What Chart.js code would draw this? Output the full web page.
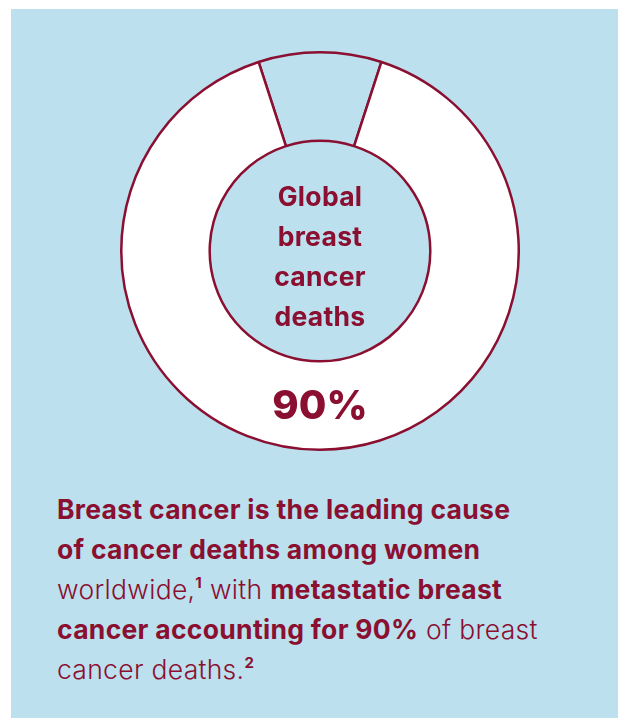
<!DOCTYPE html>
<html>
<head>
<meta charset="utf-8">
<script src="https://cdn.jsdelivr.net/npm/chart.js@4"></script>
<style>
  html, body { margin: 0; padding: 0; background: #fff; }
  body { width: 618px; height: 718px; position: relative; overflow: hidden; font-family: Inter, "Noto Sans", sans-serif; color: #8a0f30; }
  .panel { position: absolute; left: 11px; top: 9px; width: 607px; height: 709px; background: #bce0ee; }
  #donut { position: absolute; left: 120px; top: 51px; }
  .center-label { position: absolute; left: 220px; width: 200px; top: 176px; text-align: center; font-weight: 700; font-size: 26.5px; line-height: 40px; letter-spacing: 0.3px; }
  .big-value { position: absolute; left: 220px; width: 200px; top: 380px; text-align: center; font-weight: 800; font-size: 40px; line-height: 50px; }
  .caption { position: absolute; left: 57px; top: 489px; width: 560px; font-size: 26.5px; line-height: 40px; font-weight: 300; letter-spacing: 0.3px; white-space: nowrap; }
  .caption b { font-weight: 700; }
  .caption sup { font-size: 15px; font-weight: 700; vertical-align: 0; line-height: 0; position: relative; top: -11px; }
</style>
</head>
<body>
<div class="panel"></div>
<canvas id="donut" width="400" height="400"></canvas>
<div class="center-label">Global<br>breast<br>cancer<br>deaths</div>
<div class="big-value">90%</div>
<div class="caption"><b>Breast cancer is the leading cause<br>of cancer deaths among women</b><br>worldwide,<sup>1</sup> with <b>metastatic breast<br>cancer accounting for 90%</b> of breast<br>cancer deaths.<sup>2</sup></div>

<script>
// share of global breast cancer deaths
const segments  = ['Other', 'Metastatic'];
const shares    = [10, 90];
const fills     = ['#bce0ee', '#ffffff'];
const lineColor = '#8a0f30';

const ctx = document.getElementById('donut').getContext('2d');
new Chart(ctx, {
  type: 'doughnut',
  data: {
    labels: segments,
    datasets: [{ data: shares, backgroundColor: fills, borderColor: lineColor, borderWidth: 2.5 }]
  },
  options: {
    responsive: false,
    animation: false,
    rotation: -18,
    cutout: '55.5%',
    layout: { padding: 0 },
    plugins: { legend: { display: false }, tooltip: { enabled: false } }
  }
});
</script>
</body>
</html>
